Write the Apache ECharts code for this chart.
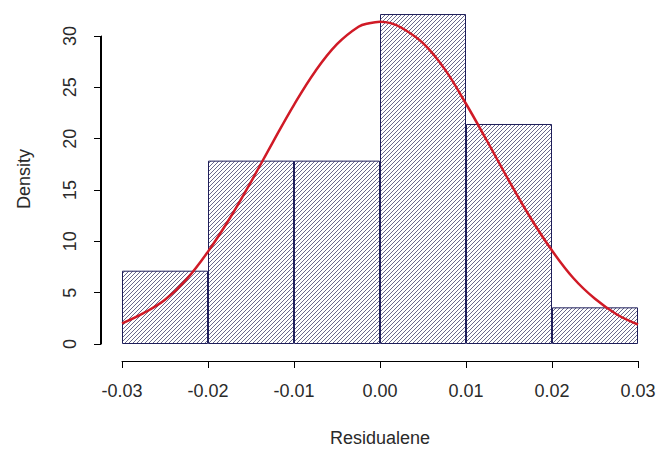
<!DOCTYPE html>
<html>
<head>
<meta charset="utf-8">
<title>Residualene histogram</title>
<script src="https://cdn.jsdelivr.net/npm/echarts@6/dist/echarts.min.js"></script>
<style>
  html, body { margin: 0; padding: 0; background: #fff; }
  #main { width: 658px; height: 450px; }
</style>
</head>
<body>
<div id="main"></div>
<script>
// histogram bins (edges -0.03 .. 0.03, width 0.01) and their densities
const binLabels = ['-0.03..-0.02', '-0.02..-0.01', '-0.01..0.00', '0.00..0.01', '0.01..0.02', '0.02..0.03'];
const binDensity = [7.14, 17.86, 17.86, 32.14, 21.43, 3.57];

// red density curve
const curveX = [-0.03, -0.0275, -0.025, -0.0225, -0.02, -0.0175, -0.015, -0.0125, -0.01, -0.0075, -0.005, -0.0025,
                -0.00125, 0, 0.00125, 0.0025, 0.005, 0.0075, 0.01, 0.0125, 0.015, 0.0175, 0.02, 0.0225, 0.025, 0.0275, 0.03];
const curveY = [2.0, 3.0, 4.3, 6.3, 9.0, 12.2, 15.8, 19.6, 23.3, 26.6, 29.2, 30.9,
                31.25, 31.4, 31.25, 30.8, 29.3, 26.8, 23.4, 19.7, 15.9, 12.3, 9.1, 6.4, 4.4, 2.9, 1.9];

// axis ranges (R draws the axis lines only over the pretty range)
const xRange = [-0.03, 0.03];
const yRange = [0, 30];

const X_OFFSET = 17;   // px gap between plot bottom and x axis line
const Y_OFFSET = 21;   // px gap between plot left and y axis line

// small tile with one diagonal stroke -> "/////" hatching like R's density= fill
function hatchPattern() {
    const c = document.createElement('canvas');
    c.width = 4; c.height = 4;
    const ctx = c.getContext('2d');
    ctx.fillStyle = '#ffffff';
    ctx.fillRect(0, 0, 4, 4);
    ctx.fillStyle = '#6a6a8c';
    for (let i = 0; i < 4; i++) ctx.fillRect(i, 3 - i, 1, 1);
    return c;
}

// detached axis lines drawn through the axis scales
// (the built-in axisLine kept disappearing when offset was used)
function renderAxisLines(params, api) {
    const lo = api.coord([xRange[0], yRange[0]]);
    const hiX = api.coord([xRange[1], yRange[0]]);
    const hiY = api.coord([xRange[0], yRange[1]]);
    const ax = Math.round(lo[0] - Y_OFFSET) - 0.5;
    const ay = Math.round(lo[1] + X_OFFSET) + 0.5;
    const style = { stroke: '#000', lineWidth: 1, fill: null };
    return {
        type: 'group',
        children: [
            { type: 'line', shape: { x1: ax, y1: Math.round(hiY[1]), x2: ax, y2: Math.round(lo[1]) }, style: style },
            { type: 'line', shape: { x1: Math.round(lo[0]), y1: ay, x2: Math.round(hiX[0]), y2: ay }, style: style }
        ]
    };
}

const chart = echarts.init(document.getElementById('main'), null, { renderer: 'svg' });
const font = 'Liberation Sans, Arial, sans-serif';
const textColor = '#2a2a2a';

chart.setOption({
    animation: false,
    backgroundColor: '#ffffff',
    grid: { left: 122, right: 20, top: 36, bottom: 106, outerBoundsMode: 'none' },
    xAxis: [{
        type: 'value',
        min: xRange[0], max: xRange[1], interval: 0.01,
        offset: X_OFFSET,
        name: 'Residualene',
        nameLocation: 'middle',
        nameGap: 68,
        nameTextStyle: { fontFamily: font, fontSize: 18, color: textColor },
        axisLine: { show: true, onZero: false, lineStyle: { color: '#000', width: 1 } },
        axisTick: { show: true, length: 7, lineStyle: { color: '#000', width: 1 } },
        axisLabel: {
            margin: 21, fontFamily: font, fontSize: 18, color: textColor,
            showMinLabel: true, showMaxLabel: true,
            formatter: v => (Math.abs(v) < 1e-9 ? 0 : v).toFixed(2)
        },
        splitLine: { show: false }
    }, {
        type: 'category',
        data: binLabels,
        show: false
    }],
    yAxis: {
        type: 'value',
        min: yRange[0], max: yRange[1], interval: 5,
        offset: Y_OFFSET,
        name: 'Density',
        nameLocation: 'middle',
        nameGap: 68,
        nameTextStyle: { fontFamily: font, fontSize: 18, color: textColor, padding: [0, 0, 0, 22] },
        axisLine: { show: true, onZero: false, lineStyle: { color: '#000', width: 1 } },
        axisTick: { show: true, length: 7, lineStyle: { color: '#000', width: 1 } },
        axisLabel: { rotate: 90, margin: 22, fontFamily: font, fontSize: 18, color: textColor },
        splitLine: { show: false }
    },
    series: [{
        type: 'bar',
        xAxisIndex: 1,
        data: binDensity,
        barCategoryGap: 0,
        barWidth: '100%',
        clip: false,
        itemStyle: {
            color: { image: hatchPattern(), repeat: 'repeat', imageWidth: 4, imageHeight: 4 },
            borderColor: '#1e1e5a',
            borderWidth: 1
        },
        emphasis: { disabled: true }
    }, {
        type: 'line',
        xAxisIndex: 0,
        data: curveX.map((x, i) => [x, curveY[i]]),
        smooth: 0.4,
        symbol: 'none',
        clip: false,
        lineStyle: { color: '#d01a26', width: 2.5 },
        z: 5
    }, {
        type: 'custom',
        xAxisIndex: 0,
        yAxisIndex: 0,
        data: [[xRange[0], yRange[0]]],
        renderItem: renderAxisLines,
        clip: false,
        silent: true,
        z: 1
    }]
});
</script>
</body>
</html>
